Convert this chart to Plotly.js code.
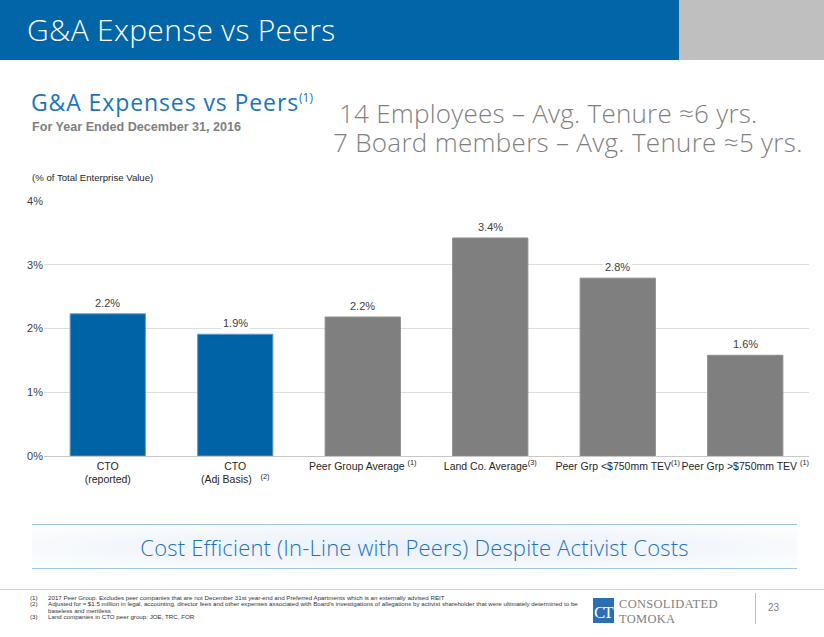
<!DOCTYPE html>
<html>
<head>
<meta charset="utf-8">
<script src="https://cdn.plot.ly/plotly-3.0.1.min.js"></script>
<style>
  html, body { margin:0; padding:0; background:#fff; }
  #page { position:relative; width:824px; height:637px; overflow:hidden; background:#fff; }
  .abs { position:absolute; white-space:nowrap; line-height:1.15; }
  #chart { position:absolute; left:0; top:0; width:824px; height:637px; z-index:2; }
  .fn { font-family:"Liberation Sans Narrow","Arial Narrow","Liberation Sans",Arial,sans-serif; font-size:6.2px; color:#333; line-height:6.3px; }
</style>
</head>
<body>
<div id="page">
  <div class="abs" style="left:0;top:0;width:679px;height:60px;background:#0265a8;"></div>
  <div class="abs" style="left:679px;top:0;width:145px;height:60px;background:#bfbfbf;"></div>
  <div class="abs" style="left:27px;top:13px;font-family:'Open Sans',sans-serif;font-weight:300;font-size:30px;color:#fff;letter-spacing:0.3px;">G&amp;A Expense vs Peers</div>

  <div class="abs" style="left:31px;top:89px;font-family:'Open Sans',sans-serif;font-weight:400;font-size:23px;color:#1b75bb;letter-spacing:0.9px;">G&amp;A Expenses vs Peers<span style="font-size:12px;vertical-align:9px;letter-spacing:0;">(1)</span></div>
  <div class="abs" style="left:32px;top:120px;font-family:'Liberation Sans Narrow','Liberation Sans',Arial,sans-serif;font-weight:bold;font-size:12.6px;color:#7f7f7f;">For Year Ended December 31, 2016</div>

  <div class="abs" style="left:339px;top:100px;font-family:'Open Sans',sans-serif;font-weight:300;font-size:26px;color:#7f7f7f;letter-spacing:0.25px;line-height:1;">14 Employees – Avg. Tenure ≈6 yrs.</div>
  <div class="abs" style="left:333px;top:129px;font-family:'Open Sans',sans-serif;font-weight:300;font-size:26px;color:#7f7f7f;letter-spacing:0.3px;line-height:1;">7 Board members – Avg. Tenure ≈5 yrs.</div>

  <div class="abs" style="left:32px;top:172px;font-family:'Liberation Sans Narrow','Liberation Sans',Arial,sans-serif;font-size:9.6px;color:#262626;">(% of Total Enterprise Value)</div>

  <div class="abs" style="left:32px;top:524px;width:765px;height:43px;border-top:1px solid #9dc3e6;border-bottom:1px solid #9dc3e6;background:radial-gradient(ellipse at center,#eaf1fa 0%,#f3f7fc 55%,#ffffff 100%);"></div>
  <div class="abs" style="left:32px;top:535px;width:765px;text-align:center;font-family:'Open Sans',sans-serif;font-weight:300;font-size:22px;color:#1f72b8;letter-spacing:0.2px;">Cost Efficient (In-Line with Peers) Despite Activist Costs</div>

  <div class="abs" style="left:0;top:589px;width:824px;height:1px;background:#d0d0d0;"></div>
  <div class="abs fn" style="left:30px;top:595px;line-height:6.3px;">(1)<br>(2)<br><br>(3)</div>
  <div class="abs fn" style="left:48px;top:595px;line-height:6.3px;">2017 Peer Group. Excludes peer companies that are not December 31st year-end and Preferred Apartments which is an externally advised REIT<br>Adjusted for ≈ $1.5 million in legal, accounting, director fees and other expenses associated with Board's investigations of allegations by activist shareholder that were ultimately determined to be<br>baseless and meritless<br>Land companies in CTO peer group: JOE, TRC, FOR</div>

  <div class="abs" style="left:593px;top:598px;width:21px;height:25px;background:#2a6fb3;"></div>
  <div class="abs" style="left:594px;top:603px;font-family:'Liberation Serif',serif;font-size:17px;color:#fff;letter-spacing:-2px;">CT</div>
  <div class="abs" style="left:619px;top:597px;font-family:'Liberation Serif',serif;font-size:12.5px;color:#7f7f7f;letter-spacing:0.3px;">CONSOLIDATED</div>
  <div class="abs" style="left:619px;top:612px;font-family:'Liberation Serif',serif;font-size:12.5px;color:#7f7f7f;letter-spacing:0.3px;">TOMOKA</div>
  <div class="abs" style="left:755px;top:593px;width:1px;height:31px;background:#bfbfbf;"></div>
  <div class="abs" style="left:768px;top:602px;font-family:'Liberation Sans',Arial,sans-serif;font-size:10px;color:#7f7f7f;">23</div>

  <div id="chart"></div>
</div>
<script>
const categories = ["CTO (reported)", "CTO (Adj Basis)", "Peer Group Average", "Land Co. Average", "Peer Grp <$750mm TEV", "Peer Grp >$750mm TEV"];
const tickLabels = ["CTO<br>(reported)", "CTO<br>(Adj Basis)   <sup>(2)</sup>", "Peer Group Average <sup>(1)</sup>", "Land Co. Average<sup>(3)</sup>", "Peer Grp &lt;$750mm TEV<sup>(1)</sup>", "Peer Grp &gt;$750mm TEV <sup>(1)</sup>"];
const values = [2.23, 1.91, 2.18, 3.42, 2.79, 1.58];
const barColors = ["#0063a6", "#0063a6", "#7f7f7f", "#7f7f7f", "#7f7f7f", "#7f7f7f"];
const lineColors = ["#5b9bd5", "#5b9bd5", "#8c8c8c", "#8c8c8c", "#8c8c8c", "#8c8c8c"];
const yTicks = [0, 1, 2, 3, 4];
const yTickText = ["0%", "1%", "2%", "3%", "4%"];

const trace = {
  type: "bar",
  x: categories,
  y: values,
  marker: { color: barColors, line: { color: lineColors, width: 1 } },
  hoverinfo: "none"
};

const annotations = categories.map((c, i) => ({
  x: c, y: values[i], xref: "x", yref: "y",
  text: values[i].toFixed(1) + "%",
  showarrow: false, yanchor: "bottom", yshift: 3,
  bgcolor: "#ffffff", borderpad: 1,
  font: { family: "Liberation Sans, Arial, sans-serif", size: 11, color: "#404040" }
}));

const layout = {
  width: 824, height: 637,
  margin: { l: 44, r: 15, t: 201, b: 181, pad: 0 },
  paper_bgcolor: "rgba(0,0,0,0)",
  plot_bgcolor: "rgba(0,0,0,0)",
  showlegend: false,
  bargap: 0.41,
  xaxis: {
    type: "category",
    tickvals: categories, ticktext: tickLabels,
    range: [-0.5, 5.5],
    showline: true, linecolor: "#c8c8c8", linewidth: 1,
    ticks: "", showgrid: false, zeroline: false,
    tickfont: { family: "Liberation Sans, Arial, sans-serif", size: 10.5, color: "#262626" },
    tickangle: 0, automargin: false
  },
  yaxis: {
    range: [0, 4],
    tickvals: yTicks, ticktext: yTickText,
    showgrid: true, gridcolor: "#dedede", gridwidth: 1,
    zeroline: false, showline: false, ticks: "",
    tickfont: { family: "Liberation Sans, Arial, sans-serif", size: 11, color: "#404040" },
    automargin: false
  },
  annotations: annotations
};

Plotly.newPlot("chart", [trace], layout, { staticPlot: true, displayModeBar: false });
</script>
</body>
</html>
